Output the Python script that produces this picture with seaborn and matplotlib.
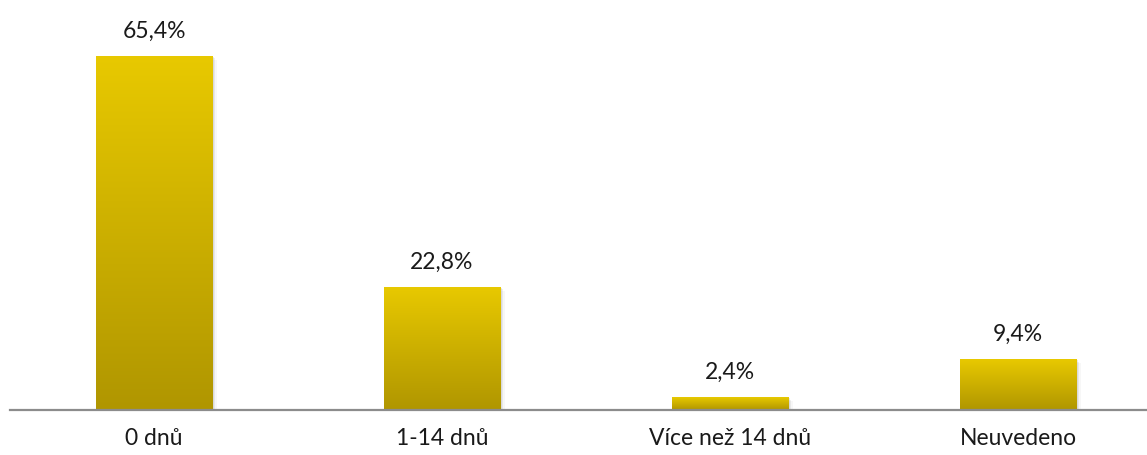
import numpy as np
import pandas as pd
import seaborn as sns
from matplotlib import pyplot as plt
from matplotlib.colors import LinearSegmentedColormap

categories = ['0 dnů', '1-14 dnů', 'Více než 14 dnů', 'Neuvedeno']
values = [65.4, 22.8, 2.4, 9.4]
labels = ['65,4%', '22,8%', '2,4%', '9,4%']

df = pd.DataFrame({'cat': categories, 'val': values})

sns.set_style('white')
plt.rcParams['font.family'] = ['Lato', 'DejaVu Sans']

fig = plt.figure(figsize=(11.47, 4.55), dpi=100)
# axes runs a bit past the right edge, like the original
ax = fig.add_axes([10 / 1147, 1 - 410 / 455, 1152 / 1147, 390 / 455])

sns.barplot(data=df, x='cat', y='val', color='#d4b800', width=0.403, ax=ax)

# vertical gradient on each bar
cmap = LinearSegmentedColormap.from_list('gold', ['#b09600', '#e8c900'])
grad = np.linspace(0, 1, 256).reshape(-1, 1)
for p in ax.patches:
    x0, y0 = p.get_x(), p.get_y()
    w, h = p.get_width(), p.get_height()
    # soft shadow
    for k, a in enumerate([0.10, 0.06, 0.03]):
        off = 0.006 * (k + 1)
        ax.add_patch(plt.Rectangle((x0 + off, y0 - 0.25 * (k + 1)), w, h,
                                   color='black', alpha=a, lw=0, zorder=1))
    im = ax.imshow(grad, cmap=cmap, aspect='auto', origin='lower',
                   extent=[x0, x0 + w, y0, y0 + h], zorder=3)
    im.set_clip_path(p)
    p.set_zorder(2)

for i, v in enumerate(values):
    ax.text(i, v + 4.5, labels[i], ha='center', va='center', fontsize=16.5, color='#1a1a1a')

ax.set_xlim(-0.5, 3.5)
ax.set_ylim(0, 72)
ax.set_xlabel('')
ax.set_ylabel('')
ax.set_yticks([])
ax.tick_params(axis='x', length=0, pad=13, labelsize=16.5, colors='#1a1a1a')
sns.despine(ax=ax, left=True, top=True, right=True)
ax.spines['bottom'].set_color('#8c8c8c')
ax.spines['bottom'].set_linewidth(1.6)
ax.spines['bottom'].set_zorder(5)

plt.savefig('out.png', dpi=100)
plt.close()
